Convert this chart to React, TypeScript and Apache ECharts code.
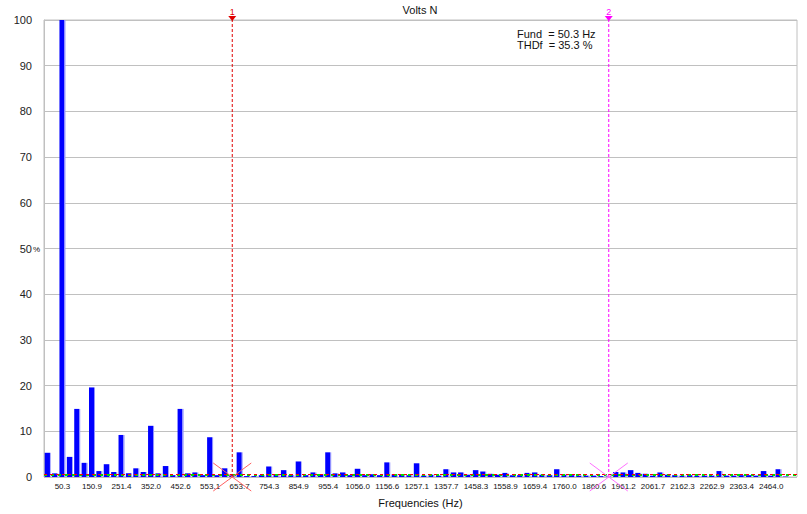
import React, { useEffect, useRef } from 'react';
import * as echarts from 'echarts';

// Harmonic spectrum in half-harmonic bins (bin 0 = DC, bin 2 = fundamental, ... bin 100 = h50), % of fundamental
const spectrum = [
  5.3, 0.8, 100, 4.4, 14.9, 3.1, 19.6, 1.3, 2.8, 1.1,
  9.2, 0.8, 1.9, 1.1, 11.2, 0.8, 2.4, 0.4, 14.9, 0.8,
  1.0, 0.4, 8.7, 0.4, 1.9, 0.4, 5.4, 0.2, 0.2, 0.4,
  2.3, 0.6, 1.5, 0.4, 3.4, 0.4, 1.0, 0.6, 5.4, 0.8,
  1.0, 0.4, 1.8, 0.4, 0.6, 0.4, 3.2, 0.6, 0.6, 0.4,
  3.0, 0.3, 0.5, 0.3, 1.7, 1.0, 1.0, 0.5, 1.5, 1.2,
  0.7, 0.5, 0.9, 0.4, 0.4, 0.9, 1.0, 0.5, 0.4, 1.7,
  0.5, 0.4, 0.3, 0.3, 0.3, 0.2, 0.1, 1.1, 1.0, 1.5,
  0.9, 0.7, 0.3, 1.0, 0.5, 0.4, 0.3, 0.4, 0.3, 0.3,
  0.3, 1.3, 0.3, 0.3, 0.4, 0.4, 0.3, 1.3, 0.3, 1.7,
  0.1,
];
const binCount = 102;
const tickLabels = [
  '50.3', '150.9', '251.4', '352.0', '452.6', '553.1', '653.7', '754.3', '854.9',
  '955.4', '1056.0', '1156.6', '1257.1', '1357.7', '1458.3', '1558.9', '1659.4',
  '1760.0', '1860.6', '1961.2', '2061.7', '2162.3', '2262.9', '2363.4', '2464.0',
];
const cursorBins = [25, 76];
const cursorNames = ['1', '2'];
const cursorColors = ['#e00000', '#ff00ff'];
const crossColors = ['#ff6060', '#ff70ff'];
const limitRed = 0.6;
const limitGreen = 0.4;
const infoLines = ['Fund  = 50.3 Hz', 'THDf  = 35.3 %'];
const chartTitle = 'Volts N';
const xName = 'Frequencies (Hz)';

const FONT = "'Liberation Sans', Arial, sans-serif";

export default function App() {
  const ref = useRef<HTMLDivElement>(null);
  useEffect(() => {
    if (!ref.current) return;
    const chart = echarts.init(ref.current, undefined, { renderer: 'svg' });
    const categories = Array.from({ length: binCount }, (_, i) => String(i));
    const barColor = new echarts.graphic.LinearGradient(0, 0, 1, 0, [
      { offset: 0, color: '#0000ff' },
      { offset: 0.8, color: '#0000ff' },
      { offset: 0.82, color: '#9090ff' },
      { offset: 1, color: '#9090ff' },
    ]);
    chart.setOption({
      animation: false,
      backgroundColor: '#ffffff',
      grid: {
        left: 44, right: 10, top: 20, bottom: 37,
        show: true, borderColor: '#c0c0c0', borderWidth: 1,
      },
      graphic: [
        {
          type: 'text', x: 420, y: 10,
          style: { text: chartTitle, align: 'center', verticalAlign: 'middle', font: `11px ${FONT}`, fill: '#111' },
        },
        {
          type: 'text', x: 517, y: 34,
          style: { text: infoLines[0], align: 'left', verticalAlign: 'middle', font: `11px ${FONT}`, fill: '#111' },
        },
        {
          type: 'text', x: 517, y: 45,
          style: { text: infoLines[1], align: 'left', verticalAlign: 'middle', font: `11px ${FONT}`, fill: '#111' },
        },
        {
          type: 'text', x: 33, y: 249,
          style: { text: '%', align: 'left', verticalAlign: 'middle', font: `8px ${FONT}`, fill: '#111' },
        },
      ],
      xAxis: {
        type: 'category',
        data: categories,
        boundaryGap: true,
        axisLine: { show: false },
        axisTick: { show: false },
        splitLine: { show: false },
        axisLabel: {
          interval: (idx: number) => idx % 4 === 2,
          formatter: (_v: string, idx: number) => tickLabels[(idx - 2) / 4] ?? '',
          margin: 5,
          fontSize: 8,
          fontFamily: FONT,
          color: '#111',
        },
        name: xName,
        nameLocation: 'middle',
        nameGap: 20,
        nameTextStyle: { fontSize: 11, fontFamily: FONT, color: '#111' },
      },
      yAxis: {
        type: 'value',
        min: 0, max: 100, interval: 10,
        axisLine: { show: true, lineStyle: { color: '#c0c0c0' } },
        axisTick: { show: false },
        splitLine: { show: true, lineStyle: { color: '#c0c0c0', width: 1 } },
        axisLabel: { margin: 12, fontSize: 11, fontFamily: FONT, color: '#222' },
      },
      series: [
        {
          type: 'bar',
          data: spectrum,
          barWidth: 6,
          itemStyle: { color: barColor },
          markLine: {
            silent: true,
            symbol: 'none',
            label: { show: false },
            data: [
              { yAxis: limitGreen, lineStyle: { color: '#00dd00', type: [3, 4], width: 2 } },
              { yAxis: limitRed, lineStyle: { color: '#ff0000', type: [3, 3], width: 1.2 } },
            ],
          },
        },
        {
          type: 'custom',
          clip: false,
          z: 10,
          data: cursorBins.map((b, k) => [b, 0, k]),
          renderItem: (params: any, api: any) => {
            const k = params.dataIndex;
            const bin = api.value(0);
            const bottom = api.coord([bin, 0]);
            const top = api.coord([bin, 100]);
            const x = bottom[0];
            const color = cursorColors[k];
            const cross = crossColors[k];
            const dx = 19, dy = 14;
            return {
              type: 'group',
              children: [
                {
                  type: 'line',
                  shape: { x1: x, y1: bottom[1], x2: x, y2: top[1] },
                  style: { stroke: color, lineWidth: 1, lineDash: [3, 2] },
                },
                {
                  type: 'polygon',
                  shape: { points: [[x - 4, top[1] - 4], [x + 4, top[1] - 4], [x, top[1] + 1]] },
                  style: { fill: color },
                },
                {
                  type: 'text',
                  style: {
                    text: cursorNames[k], x, y: top[1] - 8,
                    align: 'center', verticalAlign: 'middle',
                    font: `9px ${FONT}`, fill: color,
                  },
                },
                {
                  type: 'line',
                  shape: { x1: x - dx, y1: bottom[1] - dy, x2: x + dx, y2: bottom[1] + dy },
                  style: { stroke: cross, lineWidth: 1 },
                },
                {
                  type: 'line',
                  shape: { x1: x + dx, y1: bottom[1] - dy, x2: x - dx, y2: bottom[1] + dy },
                  style: { stroke: cross, lineWidth: 1 },
                },
              ],
            };
          },
        },
      ],
    });
    return () => chart.dispose();
  }, []);
  return (
    <div
      ref={ref}
      style={{ position: 'fixed', left: 0, top: 0, width: 807, height: 514, background: '#fff' }}
    />
  );
}
